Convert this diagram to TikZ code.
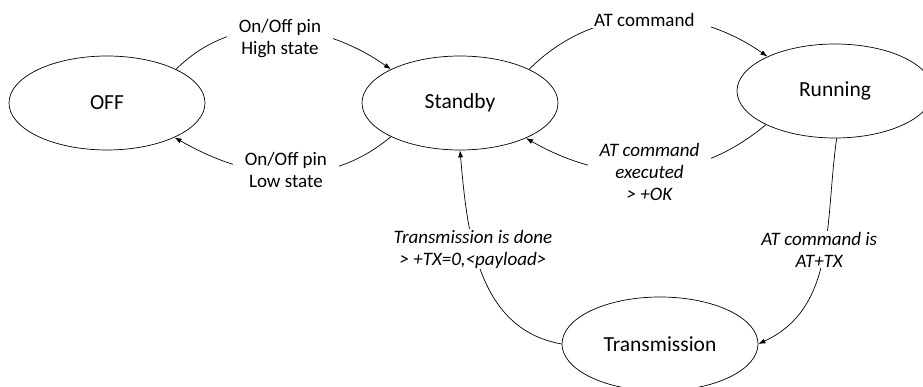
\documentclass[tikz,border=0pt]{standalone}
\usepackage{fontspec}
\setmainfont{Carlito}
\usetikzlibrary{shapes.geometric,arrows.meta}

\begin{document}
\begin{tikzpicture}[x=1pt,y=1pt,line width=0.7pt,>={Latex[length=7pt,width=5pt]},
    state/.style={ellipse,draw,minimum width=196pt,minimum height=94pt,inner sep=0pt,font=\fontsize{21.5}{26}\selectfont},
    lbl/.style={fill=white,align=center,inner xsep=12pt,inner ysep=1pt,font=\fontsize{19}{22}\selectfont}]
      \useasboundingbox (0,0) rectangle (923,387);
      \draw
        (107,284) node[state] (off){OFF}
        (460,284) node[state] (stb){Standby}
        (835,296) node[state] (run){Running}
        (660,43) node[state] (tx){Transmission};
      \begin{scope}[->]
        \draw (off.26) to[out=45,in=145] node[lbl,yshift=-9pt] {On/Off pin\\High state} (stb.154);
        \draw (stb.206) to[out=220,in=-30] node[lbl,yshift=3pt] {On/Off pin\\Low state} (off.333);
        \draw (stb.26) to[out=45,in=145] node[lbl,inner xsep=16pt,yshift=-2pt] {AT command} (run.153);
        \draw (run.206) to[out=220,in=-30] node[lbl,font=\fontsize{19}{22}\selectfont\itshape] {AT command\\executed\\> +OK} (stb.332);
        \draw (run.272) to[out=262,in=25] node[lbl,xshift=-3pt,yshift=10pt,font=\fontsize{19}{22}\selectfont\itshape] {AT command is\\AT+TX} (tx.east);
        \draw (tx.west) to[out=170,in=275] node[lbl,pos=0.63,yshift=-5pt,font=\fontsize{19}{22}\selectfont\itshape] {Transmission is done\\> +TX=0,<payload>} (stb.south);
      \end{scope}

    \end{tikzpicture}
\end{document}
